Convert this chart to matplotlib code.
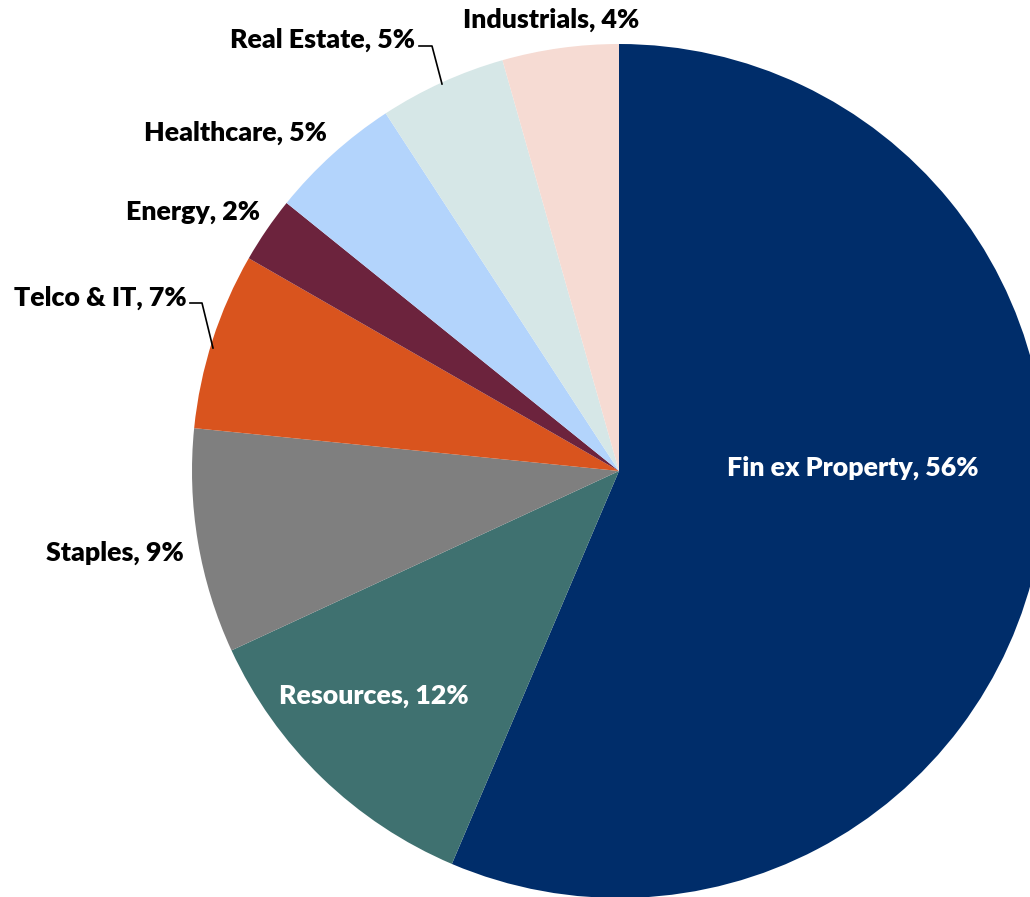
import matplotlib
matplotlib.use("Agg")
import matplotlib.pyplot as plt

categories = ["Fin ex Property", "Resources", "Staples", "Telco & IT", "Energy",
              "Healthcare", "Real Estate", "Industrials"]
values = [56.4, 11.7, 8.5, 6.7, 2.5, 5.0, 4.8, 4.4]
pct_labels = ["56%", "12%", "9%", "7%", "2%", "5%", "5%", "4%"]
colors = ["#002D6A", "#3F7170", "#7F7F7F", "#D9541E", "#6C233D",
          "#B3D4FC", "#D6E7E7", "#F6DBD3"]

W, H = 1030, 897
fig = plt.figure(figsize=(W / 100, H / 100), dpi=100)
ax = fig.add_axes([0, 0, 1, 1])
ax.set_xlim(0, W)
ax.set_ylim(H, 0)
ax.set_aspect("equal")
ax.axis("off")

cx, cy, r = 619, 471, 427
# y axis is inverted, so counterclock=True draws clockwise on screen; start at top
ax.pie(values, colors=colors, center=(cx, cy), radius=r, startangle=-90,
       counterclock=True, wedgeprops=dict(linewidth=0), frame=True)
ax.set_xlim(0, W)
ax.set_ylim(H, 0)
ax.axis("off")

font = dict(family="Lato", fontweight="heavy", fontsize=19.3)
labels = [f"{c}, {p}" for c, p in zip(categories, pct_labels)]
pos = {
    0: (853, 468, "center", "white"),
    1: (374, 696, "center", "white"),
    2: (115, 553, "center", "black"),
    3: (100, 298, "center", "black"),
    4: (193, 212, "center", "black"),
    5: (235, 133, "center", "black"),
    6: (323, 40, "center", "black"),
    7: (551, 20, "center", "black"),
}
for i, (x, y, ha, col) in pos.items():
    ax.text(x, y, labels[i], ha=ha, va="center", color=col, **font)

# leader lines
ax.plot([190, 202, 213], [303, 303, 348], color="black", lw=1.2)
ax.plot([419, 432, 442], [46, 46, 84], color="black", lw=1.2)

fig.savefig("out.png", dpi=100)
